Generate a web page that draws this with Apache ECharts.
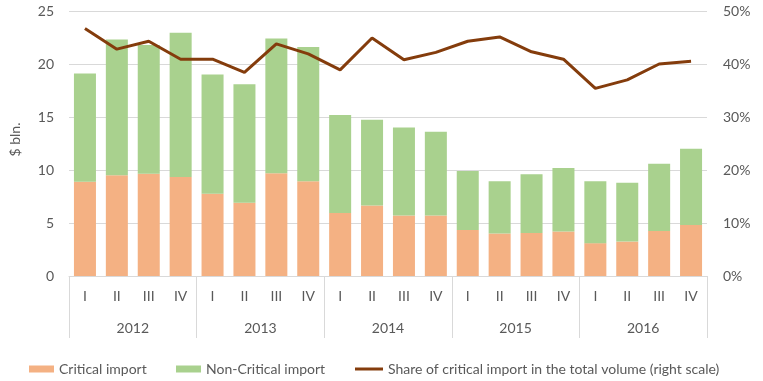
<!DOCTYPE html>
<html>
<head>
<meta charset="utf-8">
<script src="https://cdn.jsdelivr.net/npm/echarts@6/dist/echarts.min.js"></script>
<style>
html,body{margin:0;padding:0;background:#fff;}
#chart{width:763px;height:381px;}
</style>
</head>
<body>
<div id="chart"></div>
<script>
const quarters = ['I','II','III','IV','I','II','III','IV','I','II','III','IV','I','II','III','IV','I','II','III','IV'];
const years = ['2012','2013','2014','2015','2016'];
const critical = [8.9,9.5,9.65,9.35,7.75,6.9,9.7,8.95,5.95,6.65,5.7,5.7,4.35,4.0,4.05,4.2,3.1,3.25,4.25,4.8];
const total = [19.1,22.3,21.8,22.95,19.0,18.1,22.4,21.6,15.2,14.75,14.0,13.6,9.9,8.95,9.6,10.2,8.95,8.8,10.6,12.0];
const nonCritical = total.map((t,i)=>+(t-critical[i]).toFixed(2));
const share = [46.7,42.8,44.3,40.9,40.9,38.4,43.8,41.9,38.9,44.9,40.8,42.2,44.3,45.1,42.3,40.9,35.4,37.0,40.0,40.5];
const leftTicks = [0,5,10,15,20,25];
const rightTicks = [0,10,20,30,40,50];

const FONT = 'Lato';
const TXT = '#595959';
const FS = 14;
const chart = echarts.init(document.getElementById('chart'), null, {renderer:'canvas'});
const legendText = {color:TXT, fontFamily:FONT, fontSize:FS};
chart.setOption({
  animation:false,
  textStyle:{fontFamily:FONT,color:TXT},
  grid:{left:68,right:56,top:11,bottom:105,containLabel:false},
  legend:[
    {left:24,top:357,itemWidth:25,itemHeight:7,itemGap:0,textStyle:legendText,data:[{name:'Critical import',icon:'rect'}]},
    {left:171,top:357,itemWidth:25,itemHeight:7,itemGap:0,textStyle:legendText,data:[{name:'Non-Critical import',icon:'rect'}]},
    {left:350,top:357,itemWidth:28,itemHeight:3,itemGap:0,textStyle:legendText,data:[{name:'Share of critical import in the total volume (right scale)',icon:'rect'}]}
  ],
  xAxis:[
    {type:'category',data:quarters,position:'bottom',
     axisLine:{lineStyle:{color:'#d9d9d9',width:1}},
     axisTick:{show:false},
     axisLabel:{color:TXT,fontSize:FS,margin:13,interval:0}},
    {type:'category',data:years,position:'bottom',
     axisLine:{show:false},
     axisTick:{show:true,length:62,interval:0,lineStyle:{color:'#d9d9d9'}},
     axisLabel:{color:TXT,fontSize:FS,margin:45,interval:0}}
  ],
  yAxis:[
    {type:'value',min:leftTicks[0],max:leftTicks[leftTicks.length-1],interval:5,
     name:'$ bln.',nameLocation:'middle',nameGap:47,nameRotate:90,
     nameTextStyle:{color:TXT,fontSize:FS,padding:[0,0,0,8]},
     axisLine:{show:false},axisTick:{show:false},
     axisLabel:{color:TXT,fontSize:FS,margin:15},
     splitLine:{lineStyle:{color:'#d9d9d9'}}},
    {type:'value',min:rightTicks[0],max:rightTicks[rightTicks.length-1],interval:10,
     axisLine:{show:false},axisTick:{show:false},
     axisLabel:{color:TXT,fontSize:FS,margin:16,formatter:'{value}%'},
     splitLine:{show:false}}
  ],
  series:[
    {name:'Critical import',type:'bar',stack:'imp',xAxisIndex:0,yAxisIndex:0,data:critical,
     barCategoryGap:'31%',itemStyle:{color:'#F4B183'}},
    {name:'Non-Critical import',type:'bar',stack:'imp',xAxisIndex:0,yAxisIndex:0,data:nonCritical,
     barCategoryGap:'31%',itemStyle:{color:'#A9D18E'}},
    {name:'Share of critical import in the total volume (right scale)',type:'line',xAxisIndex:0,yAxisIndex:1,data:share,
     symbol:'none',lineStyle:{color:'#843C0C',width:3},itemStyle:{color:'#843C0C'}}
  ]
});
</script>
</body>
</html>
